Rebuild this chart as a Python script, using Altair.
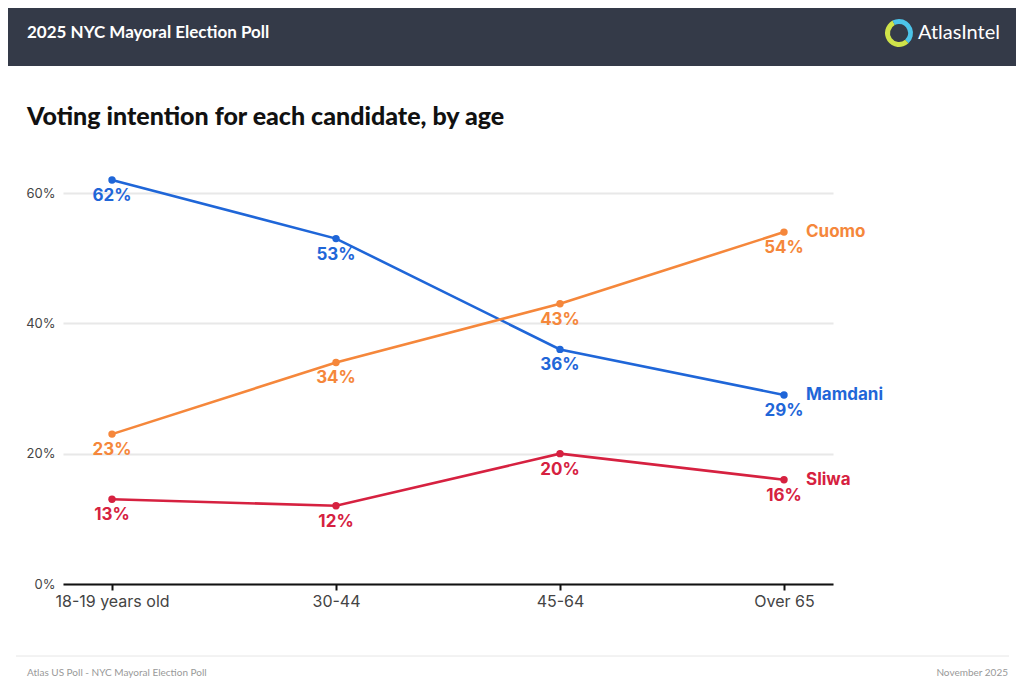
import altair as alt
import pandas as pd

# ---- data ----
age_groups = ["18-19 years old", "30-44", "45-64", "Over 65"]
candidates = ["Mamdani", "Cuomo", "Sliwa"]
mamdani = [62, 53, 36, 29]
cuomo = [23, 34, 43, 54]
sliwa = [13, 12, 20, 16]
colors = ["#1f66d8", "#f5873b", "#d62140"]

series = {"Mamdani": mamdani, "Cuomo": cuomo, "Sliwa": sliwa}
rows = []
for cand in candidates:
    for i, age in enumerate(age_groups):
        rows.append({"age": age, "candidate": cand, "value": series[cand][i],
                     "label": f"{series[cand][i]}%", "last": i == len(age_groups) - 1})
df = pd.DataFrame(rows)

W, H = 770, 391
FONT = "Inter"

x_enc = alt.X("age:N", sort=age_groups, scale=alt.Scale(type="point", padding=0.21875),
              axis=alt.Axis(title=None, labelFontSize=16, labelColor="#444", labelFont=FONT,
                            labelPadding=3, domainColor="#111", domainWidth=2,
                            tickColor="#111", tickWidth=2, tickSize=6, grid=False,
                            labelAngle=0))
y_enc = alt.Y("value:Q", scale=alt.Scale(domain=[0, 60], nice=False),
              axis=alt.Axis(title=None, values=[0, 20, 40, 60], labelExpr="datum.value + '%'",
                            labelFontSize=13, labelColor="#444", labelFont=FONT,
                            labelPadding=8, domain=False, ticks=False,
                            gridColor="#e8e8e8", gridWidth=2))
color_enc = alt.Color("candidate:N", scale=alt.Scale(domain=candidates, range=colors), legend=None)

base = alt.Chart(df)
lines = base.mark_line(strokeWidth=2.6).encode(x=x_enc, y=y_enc, color=color_enc)
points = base.mark_circle(size=55, opacity=1).encode(x=x_enc, y=y_enc, color=color_enc)
labels = base.mark_text(dy=16, fontSize=17, fontWeight="bold", font=FONT).encode(
    x=x_enc, y=y_enc, color=color_enc, text="label:N")
names = base.transform_filter("datum.last").mark_text(
    dx=22, align="left", fontSize=17, fontWeight="bold", font=FONT).encode(
    x=x_enc, y=y_enc, color=color_enc, text="candidate:N")

# ---- decorations (page chrome) ----
deco = alt.Chart(pd.DataFrame({"k": [0]}))
header = deco.mark_rect(color="#343a48").encode(
    x=alt.value(-70), x2=alt.value(970), y=alt.value(-200), y2=alt.value(-127))
title = deco.mark_text(align="left", baseline="middle", fontSize=17, fontWeight="bold",
                       font="Lato", color="white").encode(
    x=alt.value(-36), y=alt.value(-160), text=alt.value("2025 NYC Mayoral Election Poll"))
logo_text = deco.mark_text(align="left", baseline="middle", fontSize=20, font="Lato",
                           color="white").encode(
    x=alt.value(855), y=alt.value(-160), text=alt.value("AtlasIntel"))
arc1 = deco.mark_arc(theta=0, theta2=2.4, radius=14, radius2=9, color="#4cc4ea").encode(
    x=alt.value(836), y=alt.value(-160))
arc2 = deco.mark_arc(theta=2.4, theta2=5.8, radius=14, radius2=9, color="#cfe34a").encode(
    x=alt.value(836), y=alt.value(-160))
arc3 = deco.mark_arc(theta=5.8, theta2=6.2832, radius=14, radius2=9, color="#4cc4ea").encode(
    x=alt.value(836), y=alt.value(-160))
subtitle = deco.mark_text(align="left", baseline="middle", fontSize=25, fontWeight=900,
                          font="Lato", color="#111").encode(
    x=alt.value(-36), y=alt.value(-76),
    text=alt.value("Voting intention for each candidate, by age"))
footer_line = deco.mark_rule(color="#e6e6e6", strokeWidth=1).encode(
    x=alt.value(-47), x2=alt.value(946), y=alt.value(463))
footer_left = deco.mark_text(align="left", baseline="middle", fontSize=10, font="Lato",
                             color="#999").encode(
    x=alt.value(-36), y=alt.value(480), text=alt.value("Atlas US Poll - NYC Mayoral Election Poll"))
footer_right = deco.mark_text(align="right", baseline="middle", fontSize=10, font="Lato",
                              color="#999").encode(
    x=alt.value(945), y=alt.value(480), text=alt.value("November 2025"))

chart = alt.layer(
    header, title, arc1, arc2, arc3, logo_text, subtitle,
    lines, points, labels, names,
    footer_line, footer_left, footer_right
).properties(
    width=W, height=H,
    background="white",
    autosize=alt.AutoSizeParams(type="none"),
    padding={"left": 55, "top": 185, "right": 183, "bottom": 99},
).configure_view(stroke=None, strokeWidth=0)

chart.save("out.html", embed_options={"renderer": "svg", "actions": False})
